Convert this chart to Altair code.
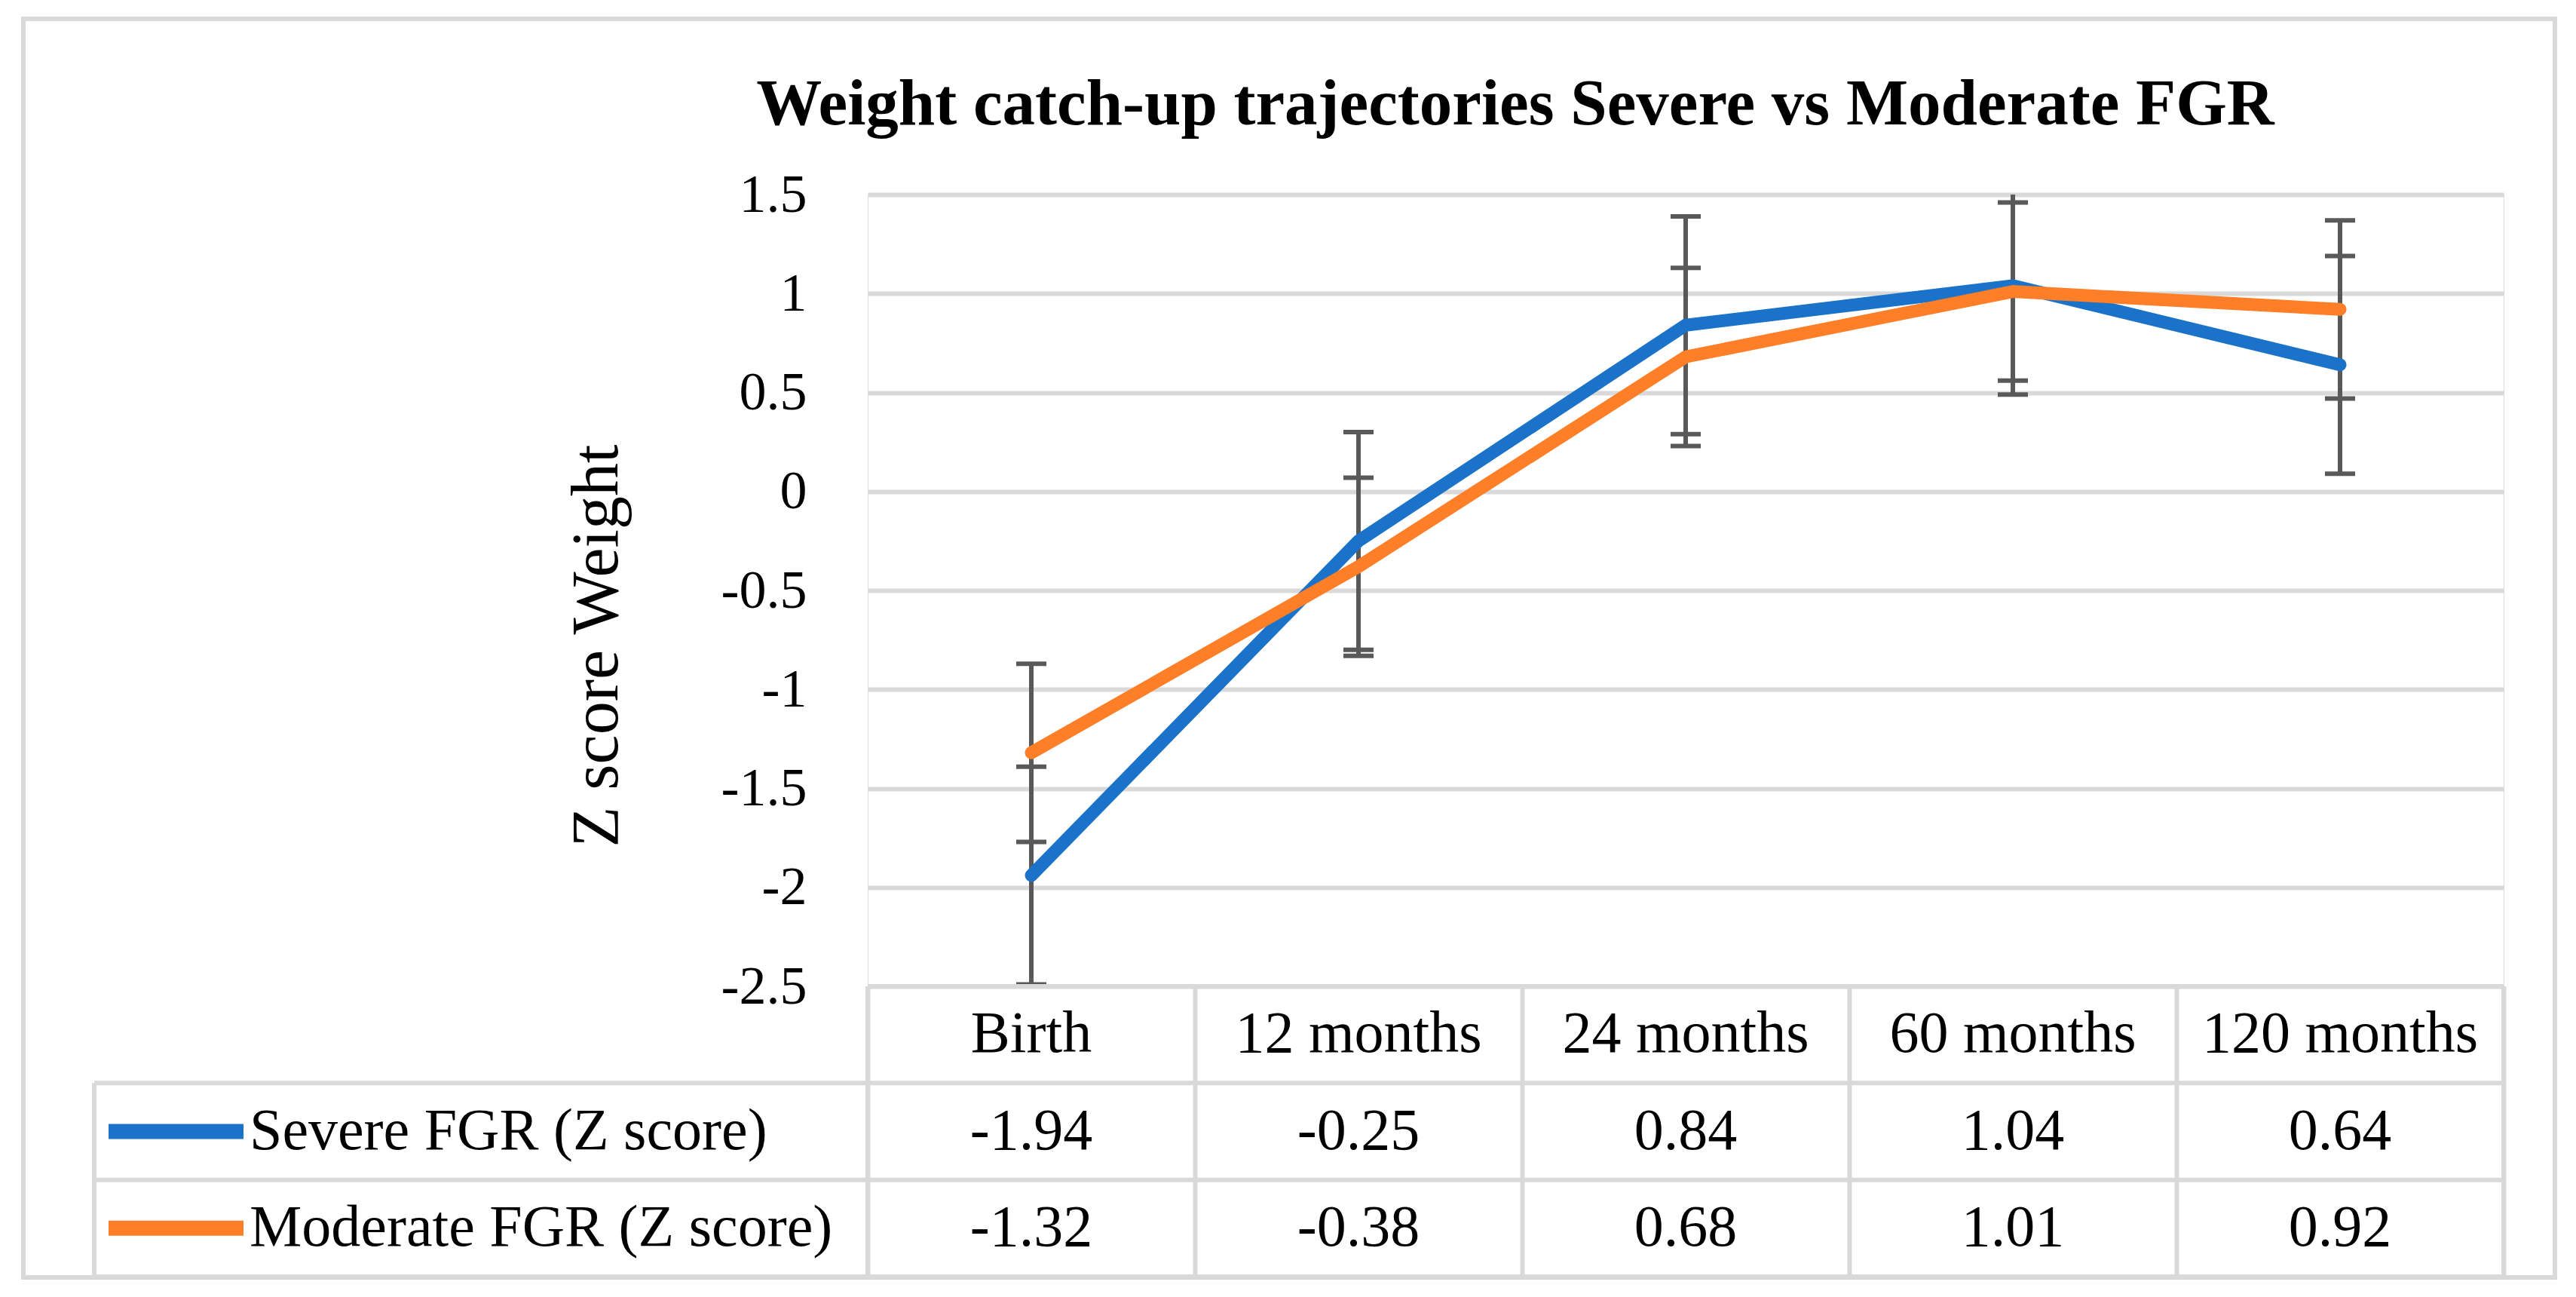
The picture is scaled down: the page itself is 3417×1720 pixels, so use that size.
import altair as alt
import pandas as pd

# ---------------- data ----------------
categories = ["Birth", "12 months", "24 months", "60 months", "120 months"]
series_names = ["Severe FGR (Z score)", "Moderate FGR (Z score)"]
severe = [-1.94, -0.25, 0.84, 1.04, 0.64]
moderate = [-1.32, -0.38, 0.68, 1.01, 0.92]
severe_sd = [0.55, 0.55, 0.55, 0.55, 0.55]
moderate_sd = [0.45, 0.45, 0.45, 0.45, 0.45]
y_ticks = [-2.5, -2, -1.5, -1, -0.5, 0, 0.5, 1, 1.5]
series_colors = ["#1A73C8", "#FE7F27"]

title_text = "Weight catch-up trajectories Severe vs Moderate FGR"
y_title = "Z score Weight"

FONT = "Liberation Serif"
GRID = "#d9d9d9"
ERR = "#595959"

# ---------------- tables built from the arrays ----------------
rows = []
for si, (name, vals, sds) in enumerate(
    [(series_names[0], severe, severe_sd), (series_names[1], moderate, moderate_sd)]
):
    for c, v, s in zip(categories, vals, sds):
        rows.append(
            dict(series=name, cat=c, z=v, lo=v - s, hi=v + s,
                 label=f"{v:.2f}", row=si + 1.5)
        )
df = pd.DataFrame(rows)
df_head = pd.DataFrame({"cat": categories, "row": [0.5] * len(categories)})
df_lab = pd.DataFrame({"series": series_names, "row": [1.5, 2.5]})
df_top = pd.DataFrame({"b": [0]})
df_rows = pd.DataFrame({"b": [1, 2, 3]})
df_vert = pd.DataFrame({"b": [0], "b2": [3]})
df_left = pd.DataFrame({"b": [1], "b2": [3]})
df_frame = pd.DataFrame({"k": [0]})

color_scale = alt.Scale(domain=series_names, range=series_colors)

# ---------------- chart 1 : the line plot ----------------
PW, PH = 2170, 1050
xenc = alt.X("cat:N", sort=categories,
             scale=alt.Scale(type="point", padding=0.5), axis=None)
yscale = alt.Scale(domain=[-2.5, 1.5], nice=False, zero=False)
yaxis = alt.Axis(
    values=y_ticks, grid=True, gridColor=GRID, gridWidth=6,
    ticks=False, tickSize=0, domain=False,
    labelFont=FONT, labelFontSize=72, labelColor="black", labelPadding=81,
    labelExpr="datum.value < 0 ? '-' + format(-datum.value, '') : format(datum.value, '')",
    title=y_title, titleFont=FONT, titleFontSize=88, titleFontWeight="normal",
    titleColor="black", titleAngle=270, titleX=-333, titleY=598,
    titleBaseline="alphabetic", titleAlign="center",
)

def Y(field):
    return alt.Y(field, type="quantitative", scale=yscale, axis=yaxis)

base = alt.Chart(df)
err_rule = base.mark_rule(color=ERR, strokeWidth=6, clip=True).encode(
    x=xenc, y=Y("lo"), y2="hi:Q")
cap_lo = base.mark_tick(color=ERR, size=40, thickness=6, orient="horizontal",
                        clip=True, opacity=1).encode(x=xenc, y=Y("lo"))
cap_hi = base.mark_tick(color=ERR, size=40, thickness=6, orient="horizontal",
                        clip=True, opacity=1).encode(x=xenc, y=Y("hi"))

def series_line(name):
    return base.transform_filter(alt.datum.series == name).mark_line(
        strokeWidth=17, strokeCap="round", strokeJoin="miter"
    ).encode(
        x=xenc, y=Y("z"),
        color=alt.Color("series:N", scale=color_scale, legend=None),
    )

chart1 = alt.layer(
    err_rule, cap_lo, cap_hi,
    series_line(series_names[0]), series_line(series_names[1]),
).properties(
    width=PW, height=PH,
    title=alt.Title(
        title_text, font=FONT, fontSize=87, fontWeight="bold", color="black",
        anchor="middle", frame="group", baseline="alphabetic", offset=-30, dx=-226,
    ),
)

# ---------------- chart 2 : the data table ----------------
TH = 385
tx = alt.X("cat:N", sort=categories,
           scale=alt.Scale(type="band", paddingInner=0, paddingOuter=0),
           axis=alt.Axis(orient="top", grid=True, gridColor=GRID, gridWidth=6,
                         tickBand="extent", labels=False, ticks=False,
                         domain=False, title=None))
tscale = alt.Scale(domain=[0, 3], reverse=True, nice=False, zero=False)

def TY(field):
    return alt.Y(field, type="quantitative", scale=tscale, axis=None)

txt = dict(font=FONT, fontSize=78, color="black", baseline="middle")

frame = alt.Chart(df_frame).mark_rect(
    fill="transparent", stroke=GRID, strokeWidth=6
).encode(
    x=alt.value(-1120), x2=alt.value(2238), y=alt.value(-1283), y2=alt.value(386)
)
header = alt.Chart(df_head).mark_text(align="center", **txt).encode(
    x=tx, y=TY("row"), text="cat:N")
values = alt.Chart(df).mark_text(align="center", **txt).encode(
    x=tx, y=TY("row"), text="label:N")
row_labels = alt.Chart(df_lab).mark_text(align="left", **txt).encode(
    x=alt.value(-820), y=TY("row"), text="series:N")
swatches = alt.Chart(df_lab).mark_rule(strokeWidth=20, strokeCap="butt").encode(
    x=alt.value(-1007), x2=alt.value(-828), y=TY("row"),
    color=alt.Color("series:N", scale=color_scale, legend=None))
top_line = alt.Chart(df_top).mark_rule(color=GRID, strokeWidth=6).encode(
    x=alt.value(0), x2=alt.value("width"), y=TY("b"))
row_lines = alt.Chart(df_rows).mark_rule(color=GRID, strokeWidth=6).encode(
    x=alt.value(-1026), x2=alt.value("width"), y=TY("b"))
left_edge = alt.Chart(df_vert).mark_rule(color=GRID, strokeWidth=6).encode(
    x=alt.value(0), y=TY("b"), y2="b2:Q")
right_edge = alt.Chart(df_vert).mark_rule(color=GRID, strokeWidth=6).encode(
    x=alt.value("width"), y=TY("b"), y2="b2:Q")
label_edge = alt.Chart(df_left).mark_rule(color=GRID, strokeWidth=6).encode(
    x=alt.value(-1026), y=TY("b"), y2="b2:Q")

chart2 = alt.layer(
    frame, top_line, row_lines, left_edge, right_edge, label_edge,
    header, values, swatches, row_labels,
).properties(width=PW, height=TH)

chart = alt.vconcat(chart1, chart2, spacing=0, bounds="flush").properties(
    padding={"left": 19, "top": 13, "right": 10, "bottom": 10},
    background="white",
).configure_view(strokeWidth=0).configure(font=FONT)

chart.save("out.html", embed_options={"renderer": "svg", "actions": False})
